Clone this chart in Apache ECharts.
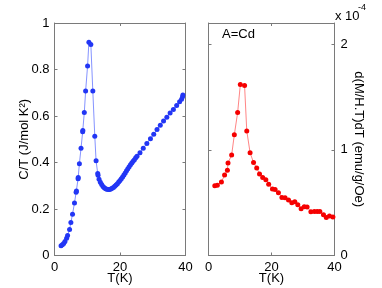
<!DOCTYPE html>
<html>
<head>
<meta charset="utf-8">
<script src="https://cdn.jsdelivr.net/npm/echarts@6/dist/echarts.min.js"></script>
<style>
html,body{margin:0;padding:0;background:#fff;}
#chart{width:382px;height:288px;}
</style>
</head>
<body>
<div id="chart"></div>
<script>
// Left panel: specific heat C/T vs T
var heatT = [2.0,2.4,2.8,3.2,3.7,4.0,4.6,5.0,5.5,6.1,6.6,6.7,7.2,7.25,7.6,8.1,8.6,8.65,9.1,9.5,10.1,10.5,11.1,11.7,12.3,12.7,13.2,13.3,
  13.6,14.0,14.4,14.8,15.2,15.6,16.0,16.4,16.8,17.2,17.6,18.0,18.4,18.8,19.2,19.6,20.0,20.4,20.8,21.2,21.6,22.0,22.4,22.8,23.2,23.6,24.0,24.4,24.8,25.2,
  26.1,27.1,28.2,29.3,30.3,31.3,32.3,33.3,34.3,35.3,36.3,37.3,38.2,38.8,39.1,39.2];
var heatCT = [0.042,0.046,0.052,0.060,0.074,0.086,0.112,0.142,0.177,0.226,0.272,0.277,0.330,0.335,0.395,0.461,0.532,0.538,0.615,0.707,0.815,0.917,0.908,0.707,0.513,0.407,0.353,0.345,
  0.328,0.315,0.305,0.297,0.291,0.287,0.285,0.284,0.284,0.286,0.289,0.293,0.298,0.303,0.309,0.316,0.323,0.330,0.338,0.346,0.355,0.364,0.373,0.382,0.390,0.398,0.405,0.412,0.420,0.427,
  0.442,0.461,0.482,0.502,0.522,0.542,0.560,0.578,0.595,0.613,0.628,0.645,0.661,0.672,0.683,0.690];

// Right panel: d(M/H.T)/dT (units of 1e-4) vs T
var magT = [2.0,2.8,4.1,5.1,6.0,6.2,7.35,8.2,9.25,10.1,11.45,12.15,13.2,14.3,15.3,16.2,17.2,18.2,19.1,20.3,21.15,22.2,23.3,24.3,25.4,26.45,27.4,28.35,29.4,30.4,31.3,32.5,33.6,34.5,35.35,36.5,37.4,38.4,39.5];
var magD = [0.660,0.665,0.695,0.761,0.807,0.876,0.951,1.143,1.352,1.617,1.608,1.179,0.973,0.879,0.828,0.772,0.738,0.717,0.675,0.630,0.625,0.593,0.549,0.547,0.524,0.498,0.509,0.480,0.443,0.462,0.459,0.415,0.417,0.417,0.417,0.385,0.360,0.373,0.364];

var xTicks = [0, 20, 40];
var leftYTicks = [0, 0.2, 0.4, 0.6, 0.8, 1];
var rightYTicks = [0, 1, 2];

var FONT = "'Liberation Sans', Arial, Helvetica, sans-serif";
var FRAME = '#7a7a7a';
var FS = 13;

function pairs(xs, ys) { return xs.map(function (x, i) { return [x, ys[i]]; }); }

function xAx(grid, pos, labels, name) {
  return {
    type: 'value', gridIndex: grid, position: pos, min: 0, max: 40, interval: 20,
    name: name || '', nameLocation: 'middle', nameGap: 16, nameMoveOverlap: false,
    nameTextStyle: { fontFamily: FONT, fontSize: FS, color: '#000', verticalAlign: 'top' },
    axisLine: { show: true, onZero: false, lineStyle: { color: FRAME, width: 1 } },
    axisTick: { show: true, inside: true, length: 3, lineStyle: { color: FRAME }, customValues: xTicks },
    axisLabel: { show: labels, margin: 5, fontFamily: FONT, fontSize: FS, color: '#000', customValues: xTicks },
    splitLine: { show: false }
  };
}
function yAx(grid, pos, labels, min, max, interval, ticks, name, nameGap, nameRotate) {
  var a = {
    type: 'value', gridIndex: grid, position: pos, min: min, max: max, interval: interval,
    axisLine: { show: true, onZero: false, lineStyle: { color: FRAME, width: 1 } },
    axisTick: { show: true, inside: true, length: 3, lineStyle: { color: FRAME }, customValues: ticks },
    axisLabel: { show: labels, margin: pos === 'left' ? 5 : 6, fontFamily: FONT, fontSize: FS, color: '#000', customValues: ticks },
    splitLine: { show: false }
  };
  if (name) {
    a.name = name; a.nameLocation = 'middle'; a.nameGap = nameGap; a.nameMoveOverlap = false;
    a.nameTextStyle = { fontFamily: FONT, fontSize: FS, color: '#000' };
    if (nameRotate !== undefined) a.nameRotate = nameRotate;
  }
  return a;
}

var chart = echarts.init(document.getElementById('chart'), null, { renderer: 'canvas' });
chart.setOption({
  animation: false,
  backgroundColor: '#fff',
  grid: [
    { left: 54.5, top: 23, width: 131, height: 232.5, containLabel: false, outerBoundsMode: 'none' },
    { left: 208.5, top: 23, width: 126, height: 232.5, containLabel: false, outerBoundsMode: 'none' }
  ],
  xAxis: [
    xAx(0, 'bottom', true, 'T(K)'),
    xAx(0, 'top', false),
    xAx(1, 'bottom', true, 'T(K)'),
    xAx(1, 'top', false)
  ],
  yAxis: [
    yAx(0, 'left', true, 0, 1, 0.2, leftYTicks, 'C/T (J/mol K\u00b2)', 24),
    yAx(0, 'right', false, 0, 1, 0.2, leftYTicks),
    yAx(1, 'right', true, 0, 2.2, 1, rightYTicks, 'd(M/H.T)dT (emu/g/Oe)', 18, -90),
    yAx(1, 'left', false, 0, 2.2, 1, rightYTicks)
  ],
  series: [
    {
      type: 'line', xAxisIndex: 0, yAxisIndex: 0, data: pairs(heatT, heatCT),
      symbol: 'circle', symbolSize: 5, showSymbol: true,
      lineStyle: { color: '#6677ff', width: 0.8 },
      itemStyle: { color: '#2236f5' }
    },
    {
      type: 'line', xAxisIndex: 2, yAxisIndex: 2, data: pairs(magT, magD),
      symbol: 'circle', symbolSize: 5, showSymbol: true,
      lineStyle: { color: '#ff6666', width: 0.8 },
      itemStyle: { color: '#f50000' }
    }
  ],
  graphic: [
    { type: 'text', left: 222, top: 28, style: { text: 'A=Cd', font: FS + 'px ' + FONT, fill: '#000' } },
    { type: 'text', left: 335, top: 10, style: { text: 'x 10', font: FS + 'px ' + FONT, fill: '#000' } },
    { type: 'text', left: 358, top: 3, style: { text: '-4', font: '9px ' + FONT, fill: '#000' } }
  ]
});
</script>
</body>
</html>
